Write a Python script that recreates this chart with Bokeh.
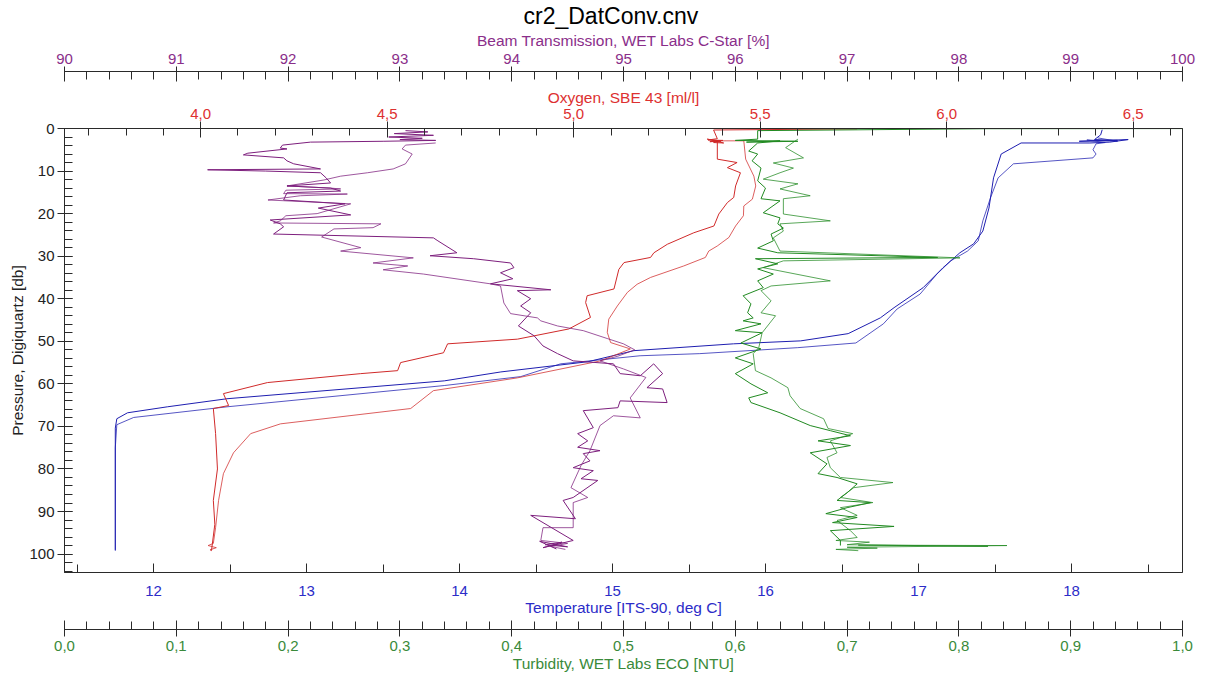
from bokeh.plotting import figure
from bokeh.models import Range1d, LinearAxis, FixedTicker, CustomJSTickFormatter
from bokeh.embed import file_html
from bokeh.resources import INLINE

# ---------------- data ----------------
# Temperature [ITS-90, deg C]
temp_down_T = [18.20, 18.19, 18.15, 18.30, 18.05, 18.37, 18.25, 18.12, 17.99, 17.67, 17.54, 17.49, 17.46, 17.42,
               17.36, 17.27, 17.16, 17.03, 16.84, 16.75, 16.54, 16.23, 15.79, 15.14, 14.84, 14.27, 13.90, 12.48,
               12.09, 11.83, 11.76, 11.75, 11.75]
temp_down_p = [0.3, 1.5, 2.6, 2.8, 3.0, 2.6, 3.2, 3.4, 3.4, 3.4, 6.0, 11.6, 18.7, 24.1, 27.1, 29.2, 32.7, 37.4,
               42.1, 44.5, 48.2, 49.9, 50.6, 52.2, 54.8, 57.2, 59.3, 63.5, 65.4, 66.8, 68.2, 70.4, 99.2]
temp_up_T = [18.17, 18.30, 18.10, 18.22, 18.16, 18.14, 18.16, 18.14, 17.62, 17.52, 17.47, 17.42, 17.39, 17.32,
             17.21, 17.12, 17.01, 16.86, 16.77, 16.59, 16.21, 15.57, 15.18, 14.66, 14.40, 13.90, 12.48, 11.87,
             11.76, 11.75, 11.75]
temp_up_p = [2.2, 3.0, 2.7, 3.3, 3.6, 5.0, 6.0, 6.9, 8.3, 11.6, 16.3, 21.7, 26.4, 28.8, 31.1, 34.2, 38.9, 42.4,
             45.9, 50.4, 51.5, 52.9, 53.4, 55.3, 58.3, 60.4, 65.4, 67.9, 69.6, 75.0, 99.0]

# Oxygen, SBE 43 [ml/l]
ox_down_O = [5.76, 5.375, 5.385, 5.360, 5.400, 5.365, 5.395, 5.358, 5.402, 5.375, 5.385, 5.385, 5.438, 5.412,
             5.447, 5.434, 5.429, 5.412, 5.389, 5.376, 5.322, 5.251, 5.215, 5.206, 5.135, 5.121, 5.108, 5.036,
             5.032, 5.045, 4.987, 4.849, 4.662, 4.651, 4.536, 4.528, 4.429, 4.179, 4.061, 4.075, 4.034, 4.040,
             4.045, 4.034, 4.038, 4.029]
ox_down_p = [0.1, 0.35, 2.4, 2.7, 2.8, 3.1, 3.0, 2.5, 3.4, 3.3, 3.0, 7.2, 8.0, 9.2, 10.4, 13.5, 16.2, 17.4, 20.1,
             22.9, 24.5, 27.2, 29.2, 30.3, 31.5, 33.1, 37.7, 39.3, 40.9, 44.4, 47.1, 49.5, 50.6, 52.7, 55.0,
             56.9, 57.6, 59.7, 62.3, 65.1, 65.8, 71.7, 80.0, 87.4, 93.0, 99.2]
ox_up_O = [5.375, 5.456, 5.461, 5.483, 5.488, 5.479, 5.456, 5.455, 5.434, 5.416, 5.385, 5.362, 5.353, 5.295,
           5.206, 5.170, 5.144, 5.117, 5.094, 5.090, 5.099, 5.152, 5.072, 4.849, 4.624, 4.563, 4.214, 4.134,
           4.088, 4.061, 4.048, 4.040, 4.034, 4.020, 4.042, 4.025, 4.029]
ox_up_p = [2.9, 2.9, 7.2, 11.2, 13.5, 16.6, 18.2, 20.5, 22.9, 25.6, 27.6, 28.8, 30.3, 32.3, 35.0, 36.6, 38.5,
           41.7, 44.8, 47.9, 50.3, 51.8, 54.6, 58.6, 61.6, 65.8, 69.4, 71.7, 76.2, 81.1, 87.4, 93.8, 97.5,
           98.0, 98.5, 99.0, 99.2]

# Beam Transmission, WET Labs C-Star [%]
beam_down_B = [93.05, 93.25, 92.95, 93.30, 92.90, 93.20, 93.00, 93.32, 92.85, 92.20, 91.95, 91.93, 91.99, 91.64,
               91.60, 91.96, 91.99, 92.05, 92.29, 91.28, 91.80, 92.29, 92.34, 92.38, 91.99, 92.38, 92.47, 91.99,
               91.96, 92.51, 92.27, 92.56, 91.84, 91.93, 91.96, 91.87, 93.30, 93.34, 93.51, 93.27, 93.66, 93.99,
               94.02, 93.90, 94.01, 93.81, 94.35, 94.05, 94.17, 94.08, 94.17, 94.06, 94.20, 94.28, 94.41, 94.55,
               94.91, 94.97, 95.15, 95.27, 95.35, 95.21, 95.35, 95.39, 94.97, 94.95, 94.64, 94.73, 94.59, 94.68,
               94.59, 94.79, 94.64, 94.70, 94.55, 94.73, 94.62, 94.77, 94.55, 94.46, 94.57, 94.17, 94.55, 94.28,
               94.45, 94.30, 94.50, 94.25, 94.40]
beam_down_p = [0.5, 0.8, 1.2, 1.6, 2.0, 2.3, 2.6, 2.8, 3.0, 3.2, 3.9, 4.6, 4.8, 5.8, 6.2, 6.9, 7.6, 8.3, 9.5, 9.7,
               10.0, 10.4, 11.6, 12.8, 13.5, 14.0, 14.7, 15.1, 16.8, 17.7, 18.7, 20.3, 21.5, 22.4, 23.1, 24.8,
               25.7, 26.4, 29.2, 29.9, 30.6, 31.6, 32.7, 33.9, 35.3, 36.5, 37.9, 38.1, 40.0, 41.7, 43.3, 46.4,
               48.7, 51.1, 52.9, 54.6, 55.3, 57.6, 58.1, 55.3, 57.6, 60.9, 61.2, 64.4, 64.0, 65.6, 66.3, 70.3,
               71.7, 73.4, 74.9, 75.7, 76.4, 78.1, 79.7, 80.4, 82.3, 82.7, 86.7, 87.4, 91.7, 90.9, 96.8, 98.5,
               97.2, 97.8, 98.3, 97.0, 98.8]
beam_up_B = [93.32, 93.05, 93.02, 93.11, 93.05, 92.94, 92.71, 92.47, 92.32, 91.99, 92.38, 92.47, 91.98, 91.96,
             92.53, 92.11, 91.82, 92.56, 92.26, 91.98, 91.93, 91.87, 92.83, 92.76, 92.41, 92.30, 92.65, 92.47,
             93.12, 92.76, 93.07, 92.85, 93.21, 93.81, 93.90, 93.93, 93.99, 94.23, 94.26, 94.41, 94.64, 94.86,
             95.00, 95.10, 94.95, 94.79, 95.00, 95.20, 95.06, 95.15, 94.91, 94.79, 94.70, 94.62, 94.53, 94.68,
             94.55, 94.55, 94.28, 94.26, 94.50, 94.35, 94.48]
beam_up_p = [3.4, 3.9, 4.8, 6.0, 8.3, 9.5, 10.4, 11.2, 12.1, 13.5, 14.0, 14.2, 14.5, 15.3, 15.4, 15.8, 16.8, 17.7,
             20.0, 20.5, 21.7, 22.2, 22.4, 23.3, 23.6, 25.5, 28.0, 28.8, 30.4, 31.6, 32.3, 33.2, 34.2, 36.5,
             37.0, 41.0, 43.5, 44.5, 45.2, 46.4, 47.5, 49.4, 50.6, 52.0, 53.5, 54.6, 56.5, 58.5, 63.3, 68.0,
             67.5, 69.8, 75.7, 79.2, 84.4, 86.7, 87.9, 93.8, 93.8, 96.8, 97.5, 98.2, 98.9]

# Turbidity, WET Labs ECO [NTU]
turb_down_N = [1.10, 0.826, 0.620, 0.620, 0.600, 0.656, 0.610, 0.640, 0.620, 0.612, 0.620, 0.615, 0.623, 0.620,
               0.627, 0.623, 0.640, 0.625, 0.640, 0.638, 0.643, 0.632, 0.634, 0.620, 0.638, 0.781, 0.618, 0.638,
               0.620, 0.634, 0.620, 0.625, 0.607, 0.614, 0.611, 0.616, 0.607, 0.623, 0.600, 0.624, 0.605, 0.623,
               0.600, 0.616, 0.600, 0.614, 0.629, 0.612, 0.614, 0.640, 0.667, 0.685, 0.703, 0.674, 0.703, 0.667,
               0.682, 0.674, 0.691, 0.709, 0.700, 0.691, 0.721, 0.700, 0.681, 0.709, 0.687, 0.742, 0.685, 0.694,
               0.694]
turb_down_p = [0.0, 0.05, 0.5, 2.5, 2.8, 3.0, 3.2, 2.9, 3.4, 5.3, 6.0, 7.6, 9.3, 12.3, 14.0, 16.5, 17.0, 19.8,
               21.0, 22.4, 23.4, 24.8, 26.4, 28.1, 29.2, 30.3, 30.6, 31.8, 33.0, 34.2, 35.8, 37.4, 39.3, 41.2,
               43.3, 44.5, 45.2, 45.9, 47.5, 48.0, 50.4, 51.8, 53.9, 55.3, 57.6, 60.0, 62.1, 63.3, 64.4, 66.8,
               69.8, 71.0, 72.2, 73.4, 74.5, 76.2, 78.8, 81.1, 82.0, 83.5, 85.6, 87.4, 87.9, 89.1, 90.5, 91.4,
               92.6, 93.5, 94.5, 96.8, 98.0]
turb_up_N = [0.656, 0.645, 0.661, 0.634, 0.652, 0.640, 0.625, 0.656, 0.640, 0.667, 0.643, 0.643, 0.685, 0.640,
             0.643, 0.634, 0.640, 0.801, 0.643, 0.625, 0.685, 0.632, 0.623, 0.632, 0.623, 0.636, 0.624, 0.621,
             0.616, 0.618, 0.632, 0.647, 0.649, 0.658, 0.679, 0.683, 0.705, 0.685, 0.691, 0.682, 0.685, 0.694,
             0.741, 0.706, 0.694, 0.723, 0.694, 0.709, 0.691, 0.703, 0.709, 0.690, 0.720, 0.700, 0.826, 0.710,
             0.843, 0.700, 0.727, 0.690, 0.710]
turb_up_p = [2.5, 4.5, 6.9, 8.1, 9.3, 10.4, 11.9, 13.0, 14.2, 15.8, 16.5, 20.1, 21.7, 22.4, 24.1, 25.7, 28.8,
             30.4, 31.1, 32.7, 35.8, 37.0, 38.1, 40.5, 43.3, 44.0, 48.0, 51.5, 52.9, 56.9, 58.6, 60.9, 62.8,
             65.8, 68.2, 70.5, 71.7, 73.4, 76.2, 77.3, 79.7, 82.0, 83.2, 84.4, 86.7, 87.9, 89.1, 90.9, 92.1,
             94.5, 96.1, 96.8, 97.2, 97.8, 98.2, 97.9, 98.0, 98.4, 98.6, 98.9, 99.2]

# axis ticks
pres_major = list(range(0, 101, 10))
pres_minor = list(range(0, 105, 2))
temp_major = [12, 13, 14, 15, 16, 17, 18]
temp_minor = [11.5, 12.5, 13.5, 14.5, 15.5, 16.5, 17.5, 18.5]
turb_major = [round(i * 0.1, 1) for i in range(11)]
turb_minor = [round(i * 0.02, 2) for i in range(51)]
ox_major = [4.0, 4.5, 5.0, 5.5, 6.0, 6.5]
ox_minor = [round(3.7 + i * 0.1, 1) for i in range(30)]
beam_major = list(range(90, 101))
beam_minor = [round(90 + i * 0.2, 1) for i in range(51)]

# ---------------- styling ----------------
FONT = "Liberation Sans"
AX = "#2a2a2a"
L_TEMP, L_OX, L_BEAM, L_TURB = "#1e1eb0", "#d02a2a", "#7d1f7d", "#218a21"
T_TEMP, T_OX, T_BEAM, T_TURB = "#2c2cc8", "#dd3030", "#8a2e8a", "#3a8a3a"
TICK_FS, LAB_FS = "15px", "15.5px"

p = figure(width=1208, height=676, output_backend="svg", toolbar_location=None,
           x_range=Range1d(11.418, 18.725), y_range=Range1d(104.33, 0),
           x_axis_location=None, y_axis_location=None,
           min_border_left=64, min_border_right=26, min_border_top=128, min_border_bottom=104)
p.extra_x_ranges = {"ox": Range1d(3.635, 6.632), "beam": Range1d(90, 100), "turb": Range1d(0, 1)}
p.outline_line_color = AX
p.outline_line_width = 1
p.background_fill_color = "white"
p.border_fill_color = "white"
for g in p.grid:
    g.visible = False

p.title.text = "cr2_DatConv.cnv"
p.title.align = "left"
p.title.offset = 459
p.title.text_font = FONT
p.title.text_font_size = "23px"
p.title.text_font_style = "normal"
p.title.text_color = "black"
p.title.standoff = 0

comma = CustomJSTickFormatter(code="return tick.toFixed(1).replace('.', ',');")


def style(ax, color, tin, tout, minin, ls, als):
    ax.axis_line_color = AX
    ax.major_tick_line_color = AX
    ax.minor_tick_line_color = AX
    ax.major_tick_in = tin
    ax.major_tick_out = tout
    ax.minor_tick_in = minin
    ax.minor_tick_out = 0
    ax.major_label_text_color = color
    ax.major_label_text_font = FONT
    ax.major_label_text_font_size = TICK_FS
    ax.axis_label_text_color = color
    ax.axis_label_text_font = FONT
    ax.axis_label_text_font_size = LAB_FS
    ax.axis_label_text_font_style = "normal"
    ax.major_label_standoff = ls
    ax.axis_label_standoff = als


def spacer(size, range_name="default"):
    # an empty axis used only to add a gap between stacked axes
    return LinearAxis(x_range_name=range_name, ticker=FixedTicker(ticks=[15.0], minor_ticks=[]),
                      axis_line_color=None, major_tick_line_color=None, minor_tick_line_color=None,
                      major_tick_in=0, major_tick_out=size, minor_tick_in=0, minor_tick_out=0,
                      major_label_standoff=0, major_label_text_font_size="1px",
                      major_label_text_alpha=0.0)


# left: pressure
ay = LinearAxis(axis_label="Pressure, Digiquartz [db]", ticker=FixedTicker(ticks=pres_major, minor_ticks=pres_minor))
style(ay, "#222222", 8, 7, 8, 3, 0)
ay.axis_label_text_color = "#222222"
p.add_layout(ay, "left")

# below: temperature, spacer, turbidity
at = LinearAxis(axis_label="Temperature [ITS-90, deg C]", ticker=FixedTicker(ticks=temp_major, minor_ticks=temp_minor))
style(at, T_TEMP, 9, 0, 8, 13, 0)
p.add_layout(at, "below")
p.add_layout(spacer(11), "below")
an = LinearAxis(x_range_name="turb", axis_label="Turbidity, WET Labs ECO [NTU]",
                ticker=FixedTicker(ticks=turb_major, minor_ticks=turb_minor), formatter=comma)
style(an, T_TURB, 9, 7, 8, 4, 1)
p.add_layout(an, "below")

# above: oxygen, spacer, beam
ao = LinearAxis(x_range_name="ox", axis_label="Oxygen, SBE 43 [ml/l]",
                ticker=FixedTicker(ticks=ox_major, minor_ticks=ox_minor), formatter=comma)
style(ao, T_OX, 9, 7, 7, 3, 0)
p.add_layout(ao, "above")
p.add_layout(spacer(14), "above")
ab = LinearAxis(x_range_name="beam", axis_label="Beam Transmission, WET Labs C-Star [%]",
                ticker=FixedTicker(ticks=beam_major, minor_ticks=beam_minor))
style(ab, T_BEAM, 10, 5, 8, 3, 2)
p.add_layout(ab, "above")

# ---------------- lines ----------------
p.line(temp_down_T, temp_down_p, line_color=L_TEMP, line_width=1)
p.line(temp_up_T, temp_up_p, line_color=L_TEMP, line_width=1, line_alpha=0.75)
p.line(ox_down_O, ox_down_p, x_range_name="ox", line_color=L_OX, line_width=1)
p.line(ox_up_O, ox_up_p, x_range_name="ox", line_color=L_OX, line_width=1, line_alpha=0.75)
p.line(beam_down_B, beam_down_p, x_range_name="beam", line_color=L_BEAM, line_width=1)
p.line(beam_up_B, beam_up_p, x_range_name="beam", line_color=L_BEAM, line_width=1, line_alpha=0.75)
p.line(turb_down_N, turb_down_p, x_range_name="turb", line_color=L_TURB, line_width=1)
p.line(turb_up_N, turb_up_p, x_range_name="turb", line_color=L_TURB, line_width=1, line_alpha=0.75)

open("out.html", "w").write(file_html(p, INLINE))
